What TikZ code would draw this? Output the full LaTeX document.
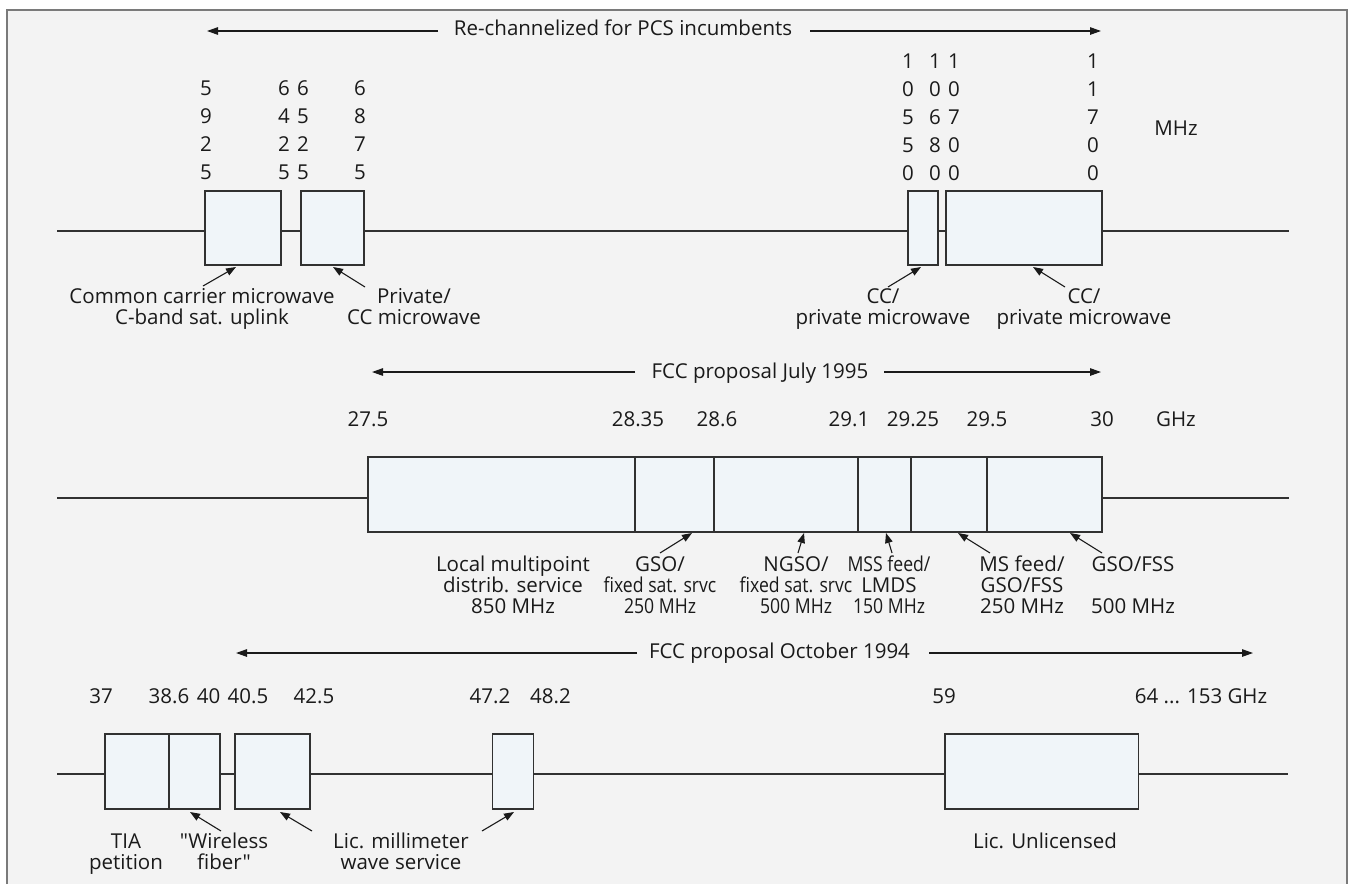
\documentclass[tikz,border=0pt]{standalone}
\usepackage{fontspec}
\setmainfont{Open Sans}[Ligatures=TeXOff]
\newfontfamily\condfont{Open Sans}[FakeStretch=0.86,Ligatures=TeXOff]
\usetikzlibrary{arrows.meta}
\definecolor{bg}{HTML}{F3F3F3}
\definecolor{boxfill}{HTML}{F0F5F9}
\definecolor{ink}{HTML}{1A1A1A}
\definecolor{framec}{HTML}{7A7A7A}
\begin{document}
\begin{tikzpicture}[x=1pt,y=-1pt,
  lbl/.style={anchor=base, inner sep=0pt, text=ink, align=center,
    font=\fontsize{20.5}{21}\selectfont},
  digits/.style={lbl, font=\fontsize{20.5}{28}\selectfont},
  axisline/.style={draw=ink!90, line width=1.2pt},
  band/.style={draw=ink!90, fill=boxfill, line width=1.3pt},
  spanarrow/.style={draw=ink, line width=1.2pt, -{Triangle[length=11pt,width=7.5pt]}},
  ptr/.style={draw=ink, line width=1.1pt, -{Triangle[length=10pt,width=7.5pt]}}]
\useasboundingbox (0,0) rectangle (1349,884);
\fill[white] (0,0) rectangle (1349,884);
\fill[bg] (7,10) rectangle (1347,884);
\draw[framec, line width=1.2pt] (7,884) -- (7,10) -- (1347,10) -- (1347,884);

% ---------------- Row 1 ----------------
\node[lbl] (t1) at (623,35) {Re-channelized for PCS incumbents};
\coordinate (t1a) at (438,31); \coordinate (t1b) at (207,31);
\coordinate (t1c) at (810,31); \coordinate (t1d) at (1101,31);
\draw[spanarrow] (t1a) -- (t1b);
\draw[spanarrow] (t1c) -- (t1d);

\node[digits] (d11) at (206,179) {5\\9\\2\\5};
\node[digits] (d12) at (284,179) {6\\4\\2\\5};
\node[digits] (d13) at (303,179) {6\\5\\2\\5};
\node[digits] (d14) at (360,179) {6\\8\\7\\5};
\node[digits] (d15) at (908,180) {1\\0\\5\\5\\0};
\node[digits] (d16) at (935,180) {1\\0\\6\\8\\0};
\node[digits] (d17) at (954,180) {1\\0\\7\\0\\0};
\node[digits] (d18) at (1093,180) {1\\1\\7\\0\\0};
\node[lbl] (mhz) at (1176,135) {MHz};

\coordinate (ax1a) at (57,231); \coordinate (ax1b) at (1289,231);
\draw[axisline] (ax1a) -- (ax1b);
\draw[band] (205,191) coordinate (b11) rectangle (281,265);
\draw[band] (301,191) coordinate (b12) rectangle (364,265);
\draw[band] (908,191) coordinate (b13) rectangle (938,265);
\draw[band] (946,191) coordinate (b14) rectangle (1102,265);

\node[lbl] (l11) at (202,324) {Common carrier microwave\\C-band sat. uplink};
\node[lbl] (l12) at (414,324) {Private/\\CC microwave};
\node[lbl] (l13) at (883,324) {CC/\\private microwave};
\node[lbl] (l14) at (1084,324) {CC/\\private microwave};
\coordinate (p11a) at (203,286); \coordinate (p11b) at (236,267);
\coordinate (p12a) at (365,287); \coordinate (p12b) at (333,267);
\coordinate (p13a) at (888,287); \coordinate (p13b) at (921,267);
\coordinate (p14a) at (1065,287); \coordinate (p14b) at (1033,267);
\draw[ptr] (p11a) -- (p11b);
\draw[ptr] (p12a) -- (p12b);
\draw[ptr] (p13a) -- (p13b);
\draw[ptr] (p14a) -- (p14b);

% ---------------- Row 2 ----------------
\node[lbl] (t2) at (760,378) {FCC proposal July 1995};
\coordinate (t2a) at (635,372); \coordinate (t2b) at (372,372);
\coordinate (t2c) at (884,372); \coordinate (t2d) at (1101,372);
\draw[spanarrow] (t2a) -- (t2b);
\draw[spanarrow] (t2c) -- (t2d);

\node[lbl] (n21) at (368,426) {27.5};
\node[lbl] (n22) at (638,426) {28.35};
\node[lbl] (n23) at (717,426) {28.6};
\node[lbl] (n24) at (849,426) {29.1};
\node[lbl] (n25) at (913,426) {29.25};
\node[lbl] (n26) at (987,426) {29.5};
\node[lbl] (n27) at (1102,426) {30};
\node[lbl] (ghz) at (1176,426) {GHz};

\coordinate (ax2a) at (57,498); \coordinate (ax2b) at (1289,498);
\draw[axisline] (ax2a) -- (ax2b);
\draw[band] (368,457) coordinate (b21) rectangle (1102,532);
\foreach \xd in {635,714,858,911,987}
  \draw[draw=ink!90, line width=1.3pt] (\xd,457) -- (\xd,532);

\node[lbl] (l21) at (513,613) {Local multipoint\\distrib. service\\850 MHz};
\node[lbl] (l22) at (660,613) {GSO/\\{\condfont fixed sat. srvc}\\{\condfont 250 MHz}};
\node[lbl] (l23) at (796,613) {NGSO/\\{\condfont fixed sat. srvc}\\{\condfont 500 MHz}};
\node[lbl] (l24) at (889,613) {{\condfont MSS feed/}\\LMDS\\{\condfont 150 MHz}};
\node[lbl] (l25) at (1022,613) {MS feed/\\GSO/FSS\\250 MHz};
\node[lbl] (l26) at (1133,613) {GSO/FSS\\\mbox{}\\500 MHz};
\coordinate (p21a) at (660,553); \coordinate (p21b) at (692,533);
\coordinate (p22a) at (798,553); \coordinate (p22b) at (804,533);
\coordinate (p23a) at (892,553); \coordinate (p23b) at (886,533);
\coordinate (p24a) at (990,553); \coordinate (p24b) at (958,533);
\coordinate (p25a) at (1102,553); \coordinate (p25b) at (1070,533);
\draw[ptr] (p21a) -- (p21b);
\draw[ptr] (p22a) -- (p22b);
\draw[ptr] (p23a) -- (p23b);
\draw[ptr] (p24a) -- (p24b);
\draw[ptr] (p25a) -- (p25b);

% ---------------- Row 3 ----------------
\node[lbl] (t3) at (779.5,658) {FCC proposal October 1994};
\coordinate (t3a) at (637,653); \coordinate (t3b) at (236,653);
\coordinate (t3c) at (929,653); \coordinate (t3d) at (1253,653);
\draw[spanarrow] (t3a) -- (t3b);
\draw[spanarrow] (t3c) -- (t3d);

\node[lbl] (n31) at (101,703) {37};
\node[lbl] (n32) at (169,703) {38.6};
\node[lbl] (n33) at (208.5,703) {40};
\node[lbl] (n34) at (248,703) {40.5};
\node[lbl] (n35) at (314,703) {42.5};
\node[lbl] (n36) at (490,703) {47.2};
\node[lbl] (n37) at (550.5,703) {48.2};
\node[lbl] (n38) at (944,703) {59};
\node[lbl] (n39) at (1201,703) {64 ... 153 GHz};

\coordinate (ax3a) at (57,774); \coordinate (ax3b) at (1288,774);
\draw[axisline] (ax3a) -- (ax3b);
\draw[band] (105,734) coordinate (b31) rectangle (169,809);
\draw[band] (169,734) coordinate (b32) rectangle (220,809);
\draw[band] (235,734) coordinate (b33) rectangle (310,809);
\draw[band] (492.5,734) coordinate (b34) rectangle (533.5,809);
\draw[band] (945,734) coordinate (b35) rectangle (1138.6,809);

\node[lbl] (l31) at (126,869) {TIA\\petition};
\node[lbl] (l32) at (224,869) {"Wireless\\fiber"};
\node[lbl] (l33) at (401,869) {Lic. millimeter\\wave service};
\node[lbl] (l34) at (1045,848) {Lic. Unlicensed};
\coordinate (p31a) at (221,831); \coordinate (p31b) at (190,812);
\coordinate (p32a) at (312,831); \coordinate (p32b) at (280,812);
\coordinate (p33a) at (482,831); \coordinate (p33b) at (514,812);
\draw[ptr] (p31a) -- (p31b);
\draw[ptr] (p32a) -- (p32b);
\draw[ptr] (p33a) -- (p33b);
\end{tikzpicture}
\end{document}
